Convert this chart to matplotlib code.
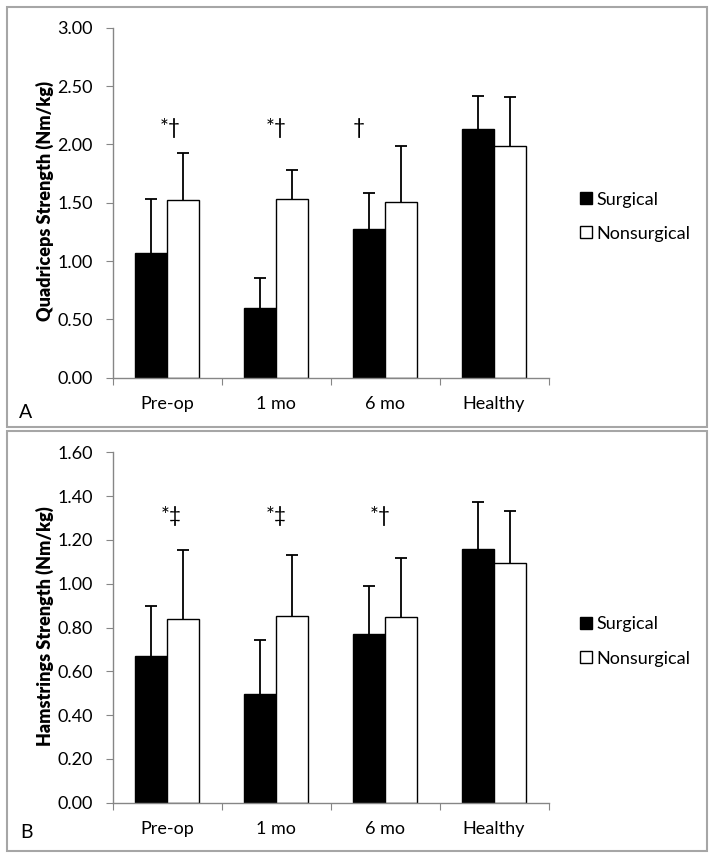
import numpy as np
import matplotlib
matplotlib.use("Agg")
import matplotlib.pyplot as plt
from matplotlib.patches import Rectangle
from matplotlib.lines import Line2D

plt.rcParams['font.family'] = ['Lato', 'DejaVu Sans']

categories = ["Pre-op", "1 mo", "6 mo", "Healthy"]
series_names = ["Surgical", "Nonsurgical"]

# panel A - quadriceps
quad_surg = [1.07, 0.595, 1.277, 2.13]
quad_surg_sd = [0.465, 0.263, 0.306, 0.284]
quad_non = [1.523, 1.529, 1.503, 1.99]
quad_non_sd = [0.405, 0.251, 0.482, 0.418]
quad_marks = ["*\u2020", "*\u2020", "\u2020", ""]

# panel B - hamstrings
ham_surg = [0.671, 0.498, 0.772, 1.158]
ham_surg_sd = [0.226, 0.246, 0.218, 0.215]
ham_non = [0.840, 0.851, 0.849, 1.093]
ham_non_sd = [0.315, 0.281, 0.268, 0.240]
ham_marks = ["*\u2021", "*\u2021", "*\u2020", ""]

W, H = 714, 858
fig = plt.figure(figsize=(W / 100, H / 100), dpi=100)

axis_grey = "#868686"
bw = 0.294


def upper_err(ax, x, y, sd):
    # only the upper half of the error bar, no cap at the bar top
    _, caps, _ = ax.errorbar(x, y, yerr=[np.zeros(len(x)), sd], fmt="none",
                             ecolor="black", elinewidth=1.3, capsize=4.5,
                             capthick=1.3, zorder=1)
    caps[0].set_visible(False)


def panel(ax, surg, surg_sd, non, non_sd, marks, mark_y, mark_dx, ymax, step, ylabel):
    x = np.arange(len(categories))
    ax.bar(x - bw / 2, surg, bw, color="black", edgecolor="black", linewidth=1.0, zorder=2)
    ax.bar(x + bw / 2, non, bw, color="white", edgecolor="black", linewidth=1.0, zorder=2)
    upper_err(ax, x - bw / 2, surg, surg_sd)
    upper_err(ax, x + bw / 2, non, non_sd)
    for i, m in enumerate(marks):
        if m:
            ax.text(i + mark_dx[i], mark_y, m, ha="center", va="center", fontsize=15)
    ax.set_xlim(-0.5, len(categories) - 0.5)
    ax.set_ylim(0, ymax)
    yt = np.arange(0, ymax + step / 2, step)
    ax.set_yticks(yt)
    ax.set_yticklabels(["%.2f" % v for v in yt], fontsize=13)
    ax.set_xticks(np.arange(len(categories) + 1) - 0.5)
    ax.set_xticklabels([])
    ax.set_xticks(x, minor=True)
    ax.set_xticklabels(categories, minor=True, fontsize=13)
    ax.tick_params(axis="x", which="minor", length=0, pad=13)
    ax.tick_params(axis="x", which="major", length=5, color=axis_grey, direction="out")
    ax.tick_params(axis="y", length=5, color=axis_grey, direction="out", pad=9)
    for s in ["top", "right"]:
        ax.spines[s].set_visible(False)
    for s in ["left", "bottom"]:
        ax.spines[s].set_color(axis_grey)
        ax.spines[s].set_linewidth(1.0)
    ax.set_ylabel(ylabel, fontsize=13, fontweight="heavy")
    ax.yaxis.set_label_coords(-0.135, 0.505)
    handles = [Line2D([], [], marker="s", linestyle="none", markersize=9,
                      markerfacecolor="black", markeredgecolor="black", markeredgewidth=1),
               Line2D([], [], marker="s", linestyle="none", markersize=9,
                      markerfacecolor="white", markeredgecolor="black", markeredgewidth=1)]
    ax.legend(handles, series_names, loc="center left", bbox_to_anchor=(1.07, 0.46),
              frameon=False, fontsize=13, handlelength=0.8, handletextpad=0.15,
              borderpad=0, borderaxespad=0, labelspacing=1.0)


ax1 = fig.add_axes([112.5 / W, (H - 377.7) / H, 436 / W, 350 / H])
panel(ax1, quad_surg, quad_surg_sd, quad_non, quad_non_sd, quad_marks, 2.14,
      [0.03, 0.0, -0.24, 0], 3.0, 0.5, "Quadriceps Strength (Nm/kg)")

ax2 = fig.add_axes([112.5 / W, (H - 802.7) / H, 436 / W, 350.4 / H])
panel(ax2, ham_surg, ham_surg_sd, ham_non, ham_non_sd, ham_marks, 1.31,
      [0.04, 0.0, -0.04, 0], 1.6, 0.2, "Hamstrings Strength (Nm/kg)")

# panel frames
for top, bot in [(7, 427), (431, 851)]:
    fig.add_artist(Rectangle((7 / W, (H - bot) / H), 700 / W, (bot - top) / H,
                             transform=fig.transFigure, fill=False,
                             edgecolor="#a6a6a6", linewidth=1.5))

fig.text(26 / W, (H - 413) / H, "A", fontsize=14, ha="center", va="center")
fig.text(27 / W, (H - 832) / H, "B", fontsize=14, ha="center", va="center")

fig.savefig("out.png", dpi=100)
